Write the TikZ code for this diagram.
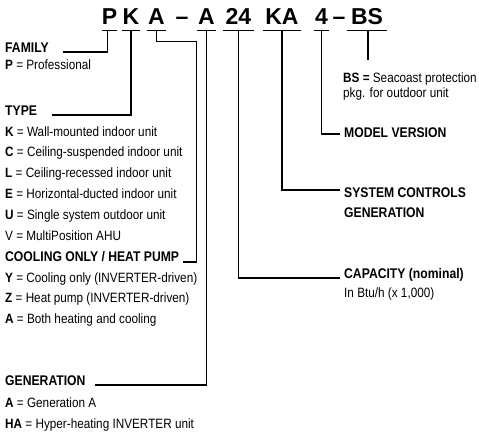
\documentclass[tikz,border=0pt]{standalone}
\usepackage{fontspec}
\setmainfont{Liberation Sans}[FakeStretch=0.87]
\newfontfamily\codefont{Liberation Sans}
\usetikzlibrary{positioning, calc}

\tikzset{
  code/.style={font=\codefont\bfseries\fontsize{23}{23}\selectfont, inner xsep=0pt, inner ysep=6.5pt, text depth=0pt, anchor=base},
  head/.style={font=\bfseries\fontsize{14}{14}\selectfont, inner sep=0pt, anchor=base west},
  item/.style={font=\fontsize{13.5}{13.5}\selectfont, inner sep=0pt, anchor=base west},
  lead/.style={line width=1.2pt},
}

\begin{document}
\begin{tikzpicture}[x=1pt,y=-1pt]
  \useasboundingbox (0,0) rectangle (479,431);

  % ---------- codigo do modelo ----------
  \node[code, minimum width=15pt] (cP)   at (109.5,24) {P};
  \node[code, minimum width=16.5pt] (cK) at (131,24)   {K};
  \node[code, minimum width=19pt] (cA)   at (156.5,24) {A};
  \node[code] (dashA)                    at (182,24)   {–};
  \node[code, minimum width=19pt] (cAA)  at (206.5,24) {A};
  \node[code, minimum width=31pt] (cCap) at (238.5,24) {24};
  \node[code, minimum width=38pt] (cCtl) at (282,24)   {KA};
  \node[code, minimum width=15pt] (cVer) at (321.5,24) {4};
  \node[code] (dashB)                    at (339,24)   {–};
  \node[code, minimum width=40pt] (cBS)  at (367,24)   {BS};
  \foreach \n in {cP,cK,cA,cAA,cCap,cCtl,cVer,cBS}
    \draw[lead] (\n.south west) -- (\n.south east);

  % ---------- lado esquerdo ----------
  \node[head] (family) at (5,52) {FAMILY};
  \node[item] (famP)   at (5,69) {\textbf{P} = Professional};

  \node[head] (type) at (5,115) {TYPE};
  \foreach \i/\k/\t in {0/K/Wall-mounted indoor unit, 1/C/Ceiling-suspended indoor unit,
                        2/L/Ceiling-recessed indoor unit, 3/E/Horizontal-ducted indoor unit,
                        4/U/Single system outdoor unit}
    \node[item] (type\k) at (5,{136+\i*20.8}) {\textbf{\k} = \t};
  \node[item] (typeV) at (5,240) {V = MultiPosition AHU};

  \node[head] (cool) at (5,261) {COOLING ONLY / HEAT PUMP};
  \node[item] (coolY) at (5,282) {\textbf{Y} = Cooling only (INVERTER-driven)};
  \node[item] (coolZ) at (5,302.5) {\textbf{Z} = Heat pump (INVERTER-driven)};
  \node[item] (coolA) at (5,323) {\textbf{A} = Both heating and cooling};

  \node[head] (gen)   at (5,385) {GENERATION};
  \node[item] (genA)  at (5,407) {\textbf{A} = Generation A};
  \node[item] (genHA) at (5,428) {\textbf{HA} = Hyper-heating INVERTER unit};

  % ---------- lado direito ----------
  \node[item] (bsA) at (343,82) {\textbf{BS =} Seacoast protection};
  \node[item] (bsB) at (343,97) {pkg. for outdoor unit};
  \node[head] (ver) at (344,137) {MODEL VERSION};
  \node[head] (ctlA) at (344,197) {SYSTEM CONTROLS};
  \node[head] (ctlB) at (344,217) {GENERATION};
  \node[head] (cap)  at (344,278) {CAPACITY (nominal)};
  \node[item] (capB) at (344,297) {In Btu/h (x 1,000)};

  % ---------- linhas ----------
  \coordinate (famEnd)  at (63,52);
  \coordinate (typeEnd) at (52,115);
  \coordinate (coolEnd) at (183,262);
  \coordinate (genEnd)  at (95,385);
  \coordinate (capEnd)  at (340,278);
  \coordinate (ctlEnd)  at (340,190);
  \coordinate (verEnd)  at (340,134);
  \coordinate (bsEnd)   at (368,60);

  \draw[lead] ([xshift=-2pt]cP.south) |- (famEnd);
  \draw[lead] (cK.south) |- (typeEnd);
  \draw[lead] (cA.south) |- ++(40,10.5) |- (coolEnd);
  \draw[lead] (cAA.south) |- (genEnd);
  \draw[lead] (cCap.south) |- (capEnd);
  \draw[lead] (cCtl.south) |- (ctlEnd);
  \draw[lead] (cVer.south) |- (verEnd);
  \draw[lead] (cBS.south -| bsEnd) -- (bsEnd);
\end{tikzpicture}
\end{document}
